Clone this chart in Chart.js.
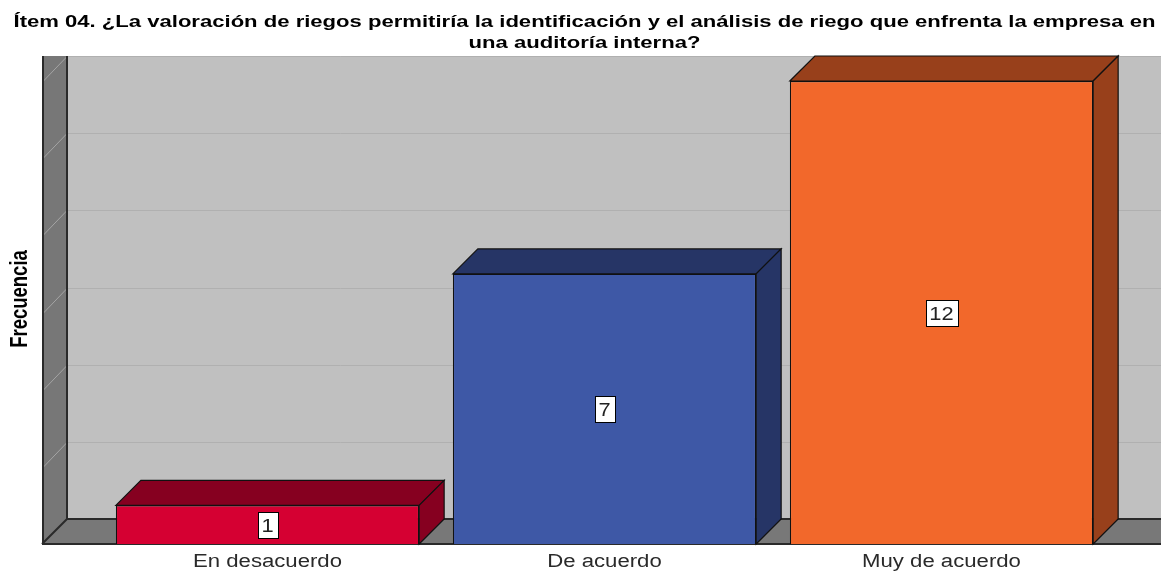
<!DOCTYPE html>
<html><head><meta charset="utf-8">
<script src="https://cdn.jsdelivr.net/npm/chart.js@4.4.1/dist/chart.umd.min.js"></script>
<style>html,body{margin:0;padding:0;background:#fff;}#wrap{width:1161px;height:571px;}</style>
</head><body><div id="wrap"><canvas id="c" width="1161" height="571"></canvas></div>
<script>
const titleLines = ['Ítem 04. ¿La valoración de riegos permitiría la identificación y el análisis de riego que enfrenta la empresa en', 'una auditoría interna?'];
const yAxisTitle = 'Frecuencia';
const categories = ['En desacuerdo', 'De acuerdo', 'Muy de acuerdo'];
const frecuencia = [1, 7, 12];
const yTicks = [0, 2, 4, 6, 8, 10, 12];

const frontColors = ['#d50032', '#3e58a6', '#f2682b'];
const darkColors = ['#860020', '#263566', '#98401b'];
const DEPTH = 25;
const WALL_GAP = 57;
const FONT = '"Liberation Sans", Arial, sans-serif';

function stretchText(ctx, text, x, y, sx) {
  ctx.save();
  ctx.translate(x, y);
  ctx.scale(sx, 1);
  ctx.fillText(text, 0, 0);
  ctx.restore();
}

const plugin3d = {
  id: 'plugin3d',
  beforeDatasetsDraw(chart) {
    const ctx = chart.ctx;
    const ca = chart.chartArea;
    const ys = chart.scales.y;
    const W = chart.width;
    const x0 = ca.left - WALL_GAP;
    const yb = ys.getPixelForValue(0);
    const yt = ys.getPixelForValue(yTicks[yTicks.length - 1]);
    ctx.save();
    ctx.fillStyle = '#c0c0c0';
    ctx.fillRect(x0 + DEPTH, yt - DEPTH, W - x0 - DEPTH, yb - yt);
    ctx.fillStyle = '#777777';
    ctx.beginPath();
    ctx.moveTo(x0, yt - DEPTH);
    ctx.lineTo(x0 + DEPTH, yt - DEPTH);
    ctx.lineTo(x0 + DEPTH, yb - DEPTH);
    ctx.lineTo(x0, yb);
    ctx.closePath();
    ctx.fill();
    ctx.fillStyle = '#787878';
    ctx.beginPath();
    ctx.moveTo(x0, yb);
    ctx.lineTo(x0 + DEPTH, yb - DEPTH);
    ctx.lineTo(W, yb - DEPTH);
    ctx.lineTo(W, yb);
    ctx.closePath();
    ctx.fill();
    ctx.lineWidth = 1;
    yTicks.forEach(v => {
      if (v === 0) return;
      const y = Math.round(ys.getPixelForValue(v)) + 0.5;
      ctx.strokeStyle = '#b0b0b0';
      ctx.beginPath();
      ctx.moveTo(x0 + DEPTH, y - DEPTH);
      ctx.lineTo(W, y - DEPTH);
      ctx.stroke();
      ctx.strokeStyle = '#a4a4a4';
      ctx.beginPath();
      ctx.moveTo(x0 + 1, y);
      ctx.lineTo(x0 + DEPTH, y - DEPTH);
      ctx.stroke();
    });
    ctx.strokeStyle = '#2a2a2a';
    ctx.lineWidth = 2;
    ctx.beginPath();
    ctx.moveTo(x0 + 1, yt - DEPTH);
    ctx.lineTo(x0 + 1, yb);
    ctx.moveTo(x0 + DEPTH, yt - DEPTH);
    ctx.lineTo(x0 + DEPTH, yb - DEPTH);
    ctx.lineTo(W, yb - DEPTH);
    ctx.moveTo(x0, yb);
    ctx.lineTo(x0 + DEPTH, yb - DEPTH);
    ctx.moveTo(x0, yb);
    ctx.lineTo(W, yb);
    ctx.stroke();
    ctx.restore();
  },
  afterDatasetsDraw(chart) {
    const ctx = chart.ctx;
    const meta = chart.getDatasetMeta(0);
    ctx.save();
    meta.data.forEach((bar, i) => {
      const p = bar.getProps(['x', 'y', 'base', 'width'], true);
      const l = p.x - p.width / 2, r = p.x + p.width / 2, t = p.y, b = p.base;
      ctx.lineWidth = 1.2;
      ctx.strokeStyle = '#111';
      ctx.fillStyle = darkColors[i];
      ctx.beginPath();
      ctx.moveTo(l, t); ctx.lineTo(l + DEPTH, t - DEPTH); ctx.lineTo(r + DEPTH, t - DEPTH); ctx.lineTo(r, t); ctx.closePath();
      ctx.fill(); ctx.stroke();
      ctx.beginPath();
      ctx.moveTo(r, t); ctx.lineTo(r + DEPTH, t - DEPTH); ctx.lineTo(r + DEPTH, b - DEPTH); ctx.lineTo(r, b); ctx.closePath();
      ctx.fill(); ctx.stroke();
      // value label
      const txt = String(frecuencia[i]);
      ctx.font = '19px ' + FONT;
      const sx = 1.15;
      const tw = ctx.measureText(txt).width * sx;
      const cy = (t + b) / 2;
      const bw = Math.round(tw + 8), bh = 26;
      const bx = Math.round(p.x - bw / 2) + 0.5, by = Math.round(cy - bh / 2) + 0.5;
      ctx.fillStyle = '#ffffff';
      ctx.fillRect(bx, by, bw, bh);
      ctx.lineWidth = 1;
      ctx.strokeStyle = '#000';
      ctx.strokeRect(bx, by, bw, bh);
      ctx.fillStyle = '#222';
      ctx.textAlign = 'center';
      ctx.textBaseline = 'alphabetic';
      stretchText(ctx, txt, p.x, cy + 7, sx);
    });
    // x category labels
    const xs = chart.scales.x;
    ctx.font = '18px ' + FONT;
    ctx.fillStyle = '#2a2a2a';
    ctx.textAlign = 'center';
    ctx.textBaseline = 'alphabetic';
    categories.forEach((c, i) => {
      stretchText(ctx, c, xs.getPixelForValue(i), 567, 1.23);
    });
    // title
    ctx.font = 'bold 17px ' + FONT;
    ctx.fillStyle = '#000';
    const w1 = ctx.measureText(titleLines[0]).width;
    const tsx = 1142 / w1;
    titleLines.forEach((line, k) => {
      stretchText(ctx, line, chart.width / 2 + 4, 27 + k * 21, tsx);
    });
    // y axis title (condensed bold)
    ctx.save();
    ctx.translate(27, 299);
    ctx.rotate(-Math.PI / 2);
    ctx.scale(0.77, 1);
    ctx.font = 'bold 24px ' + FONT;
    ctx.fillStyle = '#000';
    ctx.textAlign = 'center';
    ctx.textBaseline = 'alphabetic';
    ctx.fillText(yAxisTitle, 0, 0);
    ctx.restore();
    ctx.restore();
  }
};

new Chart(document.getElementById('c'), {
  type: 'bar',
  data: {
    labels: categories,
    datasets: [{
      data: frecuencia,
      backgroundColor: frontColors,
      borderColor: '#111',
      borderWidth: 1.2,
      categoryPercentage: 1,
      barPercentage: 0.9
    }]
  },
  options: {
    responsive: false,
    animation: false,
    events: [],
    layout: { padding: { left: 99, right: 51, top: 81, bottom: 27 } },
    plugins: {
      legend: { display: false },
      tooltip: { enabled: false },
      title: { display: false }
    },
    scales: {
      x: { display: false },
      y: { display: false, min: 0, max: 12 }
    }
  },
  plugins: [plugin3d]
});
</script></body></html>
